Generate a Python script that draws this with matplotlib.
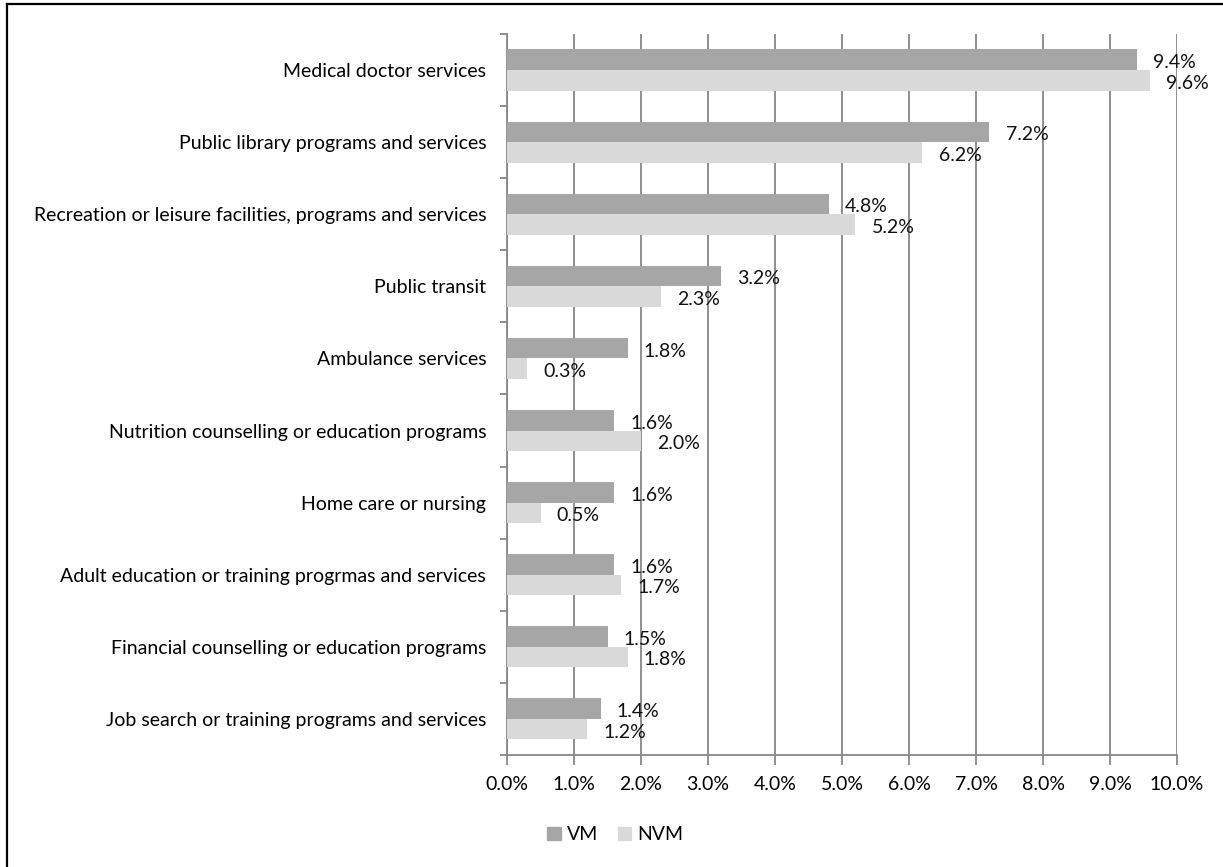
import matplotlib.pyplot as plt
from matplotlib.lines import Line2D
from matplotlib.patches import Patch
import numpy as np

# service categories, top to bottom
categories = ['Medical doctor services',
              'Public library programs and services',
              'Recreation or leisure facilities, programs and services',
              'Public transit',
              'Ambulance services',
              'Nutrition counselling or education programs',
              'Home care or nursing',
              'Adult education or training progrmas and services',
              'Financial counselling or education programs',
              'Job search or training programs and services']
vm = [9.4, 7.2, 4.8, 3.2, 1.8, 1.6, 1.6, 1.6, 1.5, 1.4]
nvm = [9.6, 6.2, 5.2, 2.3, 0.3, 2.0, 0.5, 1.7, 1.8, 1.2]
x_ticks = np.arange(0, 11, 1)

plt.rcParams['font.family'] = ['Lato', 'DejaVu Sans']
grid_col = '#878787'
vm_col = '#a6a6a6'
nvm_col = '#d9d9d9'
fs = 14


def main():
    fig = plt.figure(figsize=(12.23, 8.67), dpi=100)
    ax = fig.add_axes([0.4146, 0.1292, 0.5478, 0.8316])

    y = np.arange(len(categories))
    h = 0.285
    ax.barh(y - h / 2, vm, height=h, color=vm_col, zorder=3)
    ax.barh(y + h / 2, nvm, height=h, color=nvm_col, zorder=3)

    # value labels to the right of each bar
    for i, (a, b) in enumerate(zip(vm, nvm)):
        ax.text(a + 0.24, i - h / 2 + 0.04, '%.1f%%' % a, va='center', ha='left',
                fontsize=fs, color='#111111', zorder=4)
        ax.text(b + 0.24, i + h / 2 + 0.04, '%.1f%%' % b, va='center', ha='left',
                fontsize=fs, color='#111111', zorder=4)

    ax.set_xlim(0, 10)
    ax.set_ylim(len(categories) - 0.5, -0.5)
    ax.set_xticks(x_ticks)
    ax.set_xticklabels(['%.1f%%' % v for v in x_ticks], fontsize=fs)
    ax.set_yticks(y)
    ax.set_yticklabels(categories, fontsize=fs)
    ax.set_yticks(np.arange(len(categories) + 1) - 0.5, minor=True)
    ax.tick_params(axis='y', which='major', length=0, pad=15)
    ax.tick_params(axis='y', which='minor', length=5, color=grid_col, width=1.3)
    ax.tick_params(axis='x', length=7, color=grid_col, width=1.3, pad=8)

    ax.grid(axis='x', color=grid_col, linewidth=1.3, zorder=0)
    for side in ['top', 'right']:
        ax.spines[side].set_visible(False)
    for side in ['left', 'bottom']:
        ax.spines[side].set_color(grid_col)
        ax.spines[side].set_linewidth(1.3)

    handles = [Patch(color=vm_col), Patch(color=nvm_col)]
    fig.legend(handles, ['VM', 'NVM'], loc='center', bbox_to_anchor=(0.503, 0.037),
               ncol=2, frameon=False, fontsize=fs, handlelength=0.7, handleheight=0.7,
               handletextpad=0.3, columnspacing=1.0)

    # outer frame on top and left edges
    fig.add_artist(Line2D([0.0057, 1.0], [0.9954, 0.9954], color='black', lw=1.6,
                          transform=fig.transFigure))
    fig.add_artist(Line2D([0.0057, 0.0057], [0.0, 0.9954], color='black', lw=1.6,
                          transform=fig.transFigure))

    fig.savefig('out.png', dpi=100)


if __name__ == '__main__':
    main()
